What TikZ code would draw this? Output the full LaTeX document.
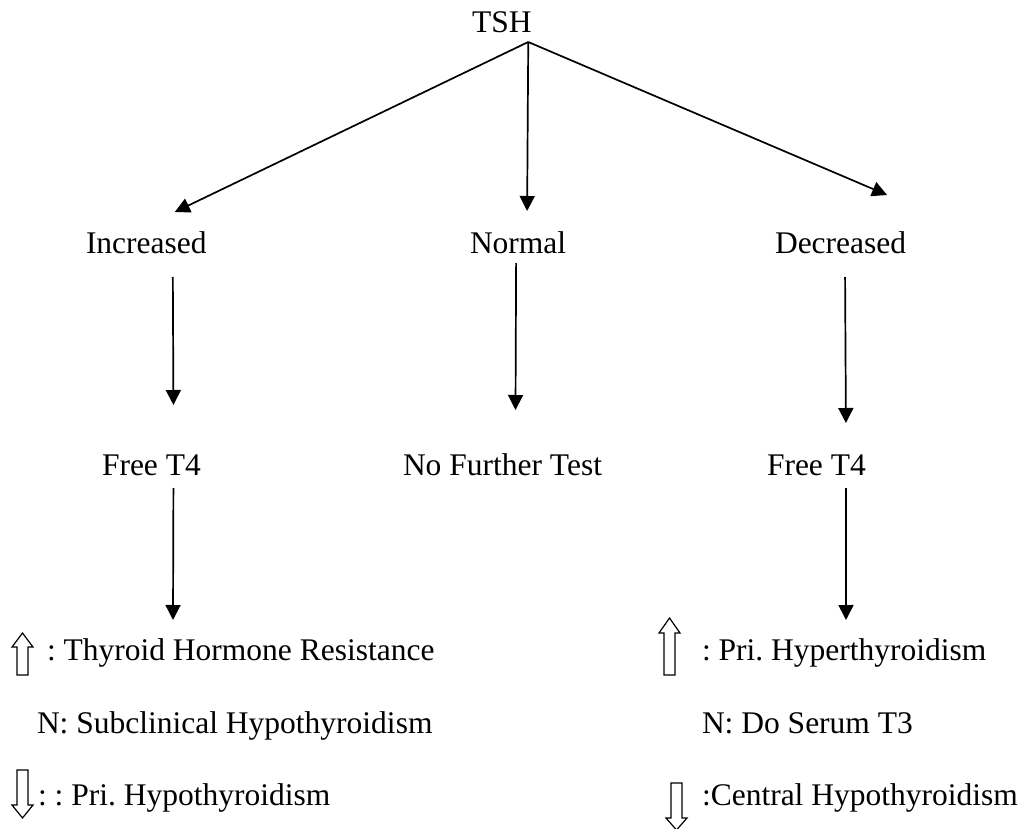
\documentclass[tikz,border=0pt]{standalone}
\usepackage{fontspec}
\setmainfont{Liberation Serif}
\usetikzlibrary{arrows.meta,calc}
\frenchspacing
\begin{document}
\begin{tikzpicture}[x=1pt,y=-1pt,
  lbl/.style={inner sep=0pt,outer sep=0pt,anchor=base west,text height=22pt,text depth=7pt,font=\fontsize{31.5}{38}\selectfont},
  arr/.style={line width=1.7pt,-{Triangle[length=15pt,width=15pt]}},
  hollow/.style={line width=1.2pt,fill=white,line join=miter}]
\useasboundingbox[fill=white] (0,0) rectangle (1026,829);
% nodes
\node[lbl] (tsh) at (472,33) {TSH};
\node[lbl] (inc) at (86,254) {Increased};
\node[lbl] (nor) at (470,254) {Normal};
\node[lbl] (dec) at (775,254) {Decreased};
\node[lbl] (ft4l) at (102,475) {Free T4};
\node[lbl] (nft) at (403,475) {No Further Test};
\node[lbl] (ft4r) at (767,475) {Free T4};
\node[lbl] (l1) at (47,660) {: Thyroid Hormone Resistance};
\node[lbl] (l2) at (37,733) {N: Subclinical Hypothyroidism};
\node[lbl] (l3) at (38,805) {: : Pri. Hypothyroidism};
\node[lbl] (r1) at (702,660) {: Pri. Hyperthyroidism};
\node[lbl] (r2) at (702,733) {N: Do Serum T3};
\node[lbl] (r3) at (702,805) {:Central Hypothyroidism};
% connectors
\coordinate (apex) at ($(tsh.south)+(26.5,2)$);
\draw[arr] (apex) -- ($(inc.north)+(28.5,-20)$);
\draw[arr] (apex) -- ($(nor.north)+(9,-21)$);
\draw[arr] (apex) -- ($(dec.north)+(46.5,-37)$);
\draw[arr] ($(inc.south)+(26.5,16)$) -- ($(ft4l.north)+(22,-48)$);
\draw[arr] ($(nor.south)+(-2,2)$) -- ($(nft.north)+(13,-43)$);
\draw[arr] ($(dec.south)+(4.5,16)$) -- ($(ft4r.north)+(29.5,-30)$);
\draw[arr] ($(ft4l.south)+(22,6)$) -- ($(l1.north west)+(126,-18)$);
\draw[arr] ($(ft4r.south)+(29.5,6)$) -- ($(r1.north west)+(144,-18)$);
% hollow arrows
\draw[hollow] (22.5,633) -- (33,647) -- (28,647) -- (28,675) -- (17,675) -- (17,647) -- (12,647) -- cycle;
\draw[hollow] (669.5,618) -- (680,633) -- (675,633) -- (675,675) -- (664,675) -- (664,633) -- (659,633) -- cycle;
\draw[hollow] (22.5,818) -- (33,805) -- (28,805) -- (28,770) -- (17,770) -- (17,805) -- (12,805) -- cycle;
\draw[hollow] (676.5,830) -- (687,818) -- (682,818) -- (682,783) -- (671,783) -- (671,818) -- (666,818) -- cycle;
\end{tikzpicture}
\end{document}
